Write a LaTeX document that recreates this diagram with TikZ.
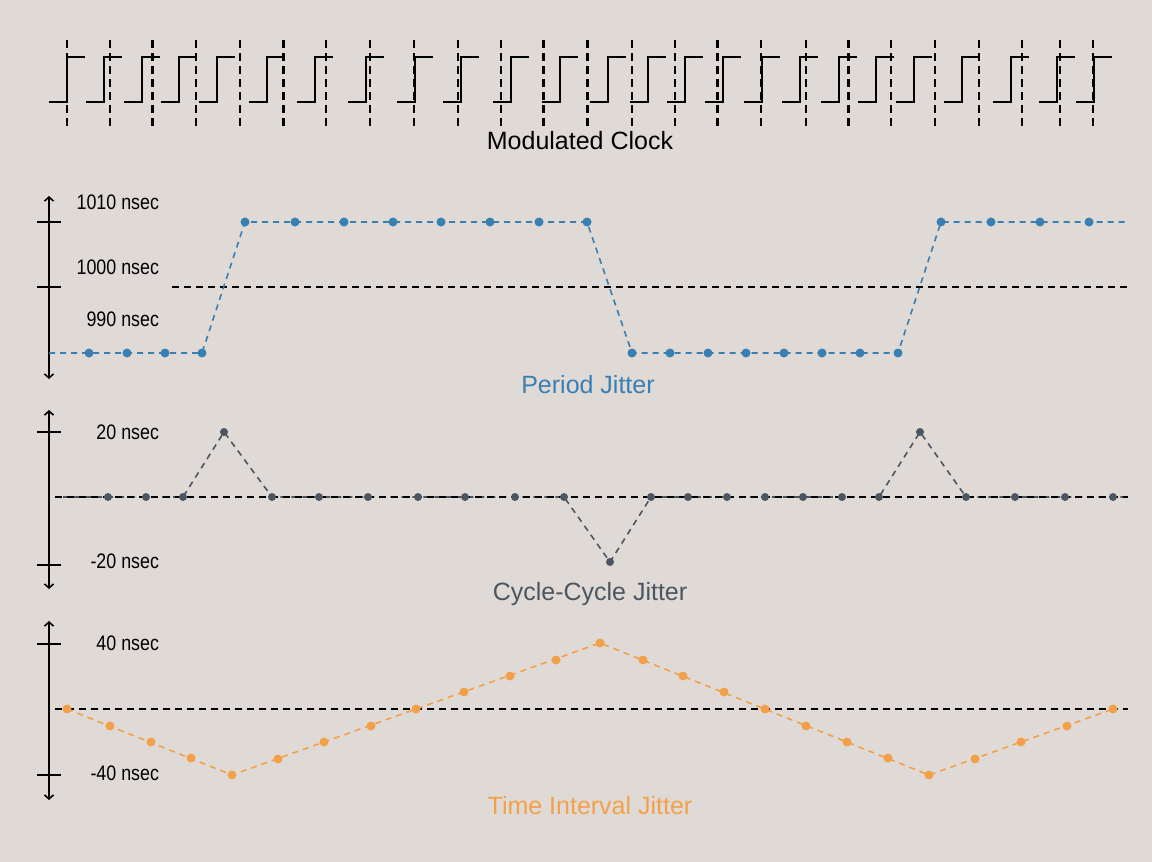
\documentclass[tikz,border=0pt]{standalone}
\usepackage{fontspec}
\setmainfont{Liberation Sans}
\usetikzlibrary{arrows.meta}
\definecolor{bg}{HTML}{E0DAD7}
\definecolor{cblue}{HTML}{3A7FB2}
\definecolor{cgray}{HTML}{4B5661}
\definecolor{corange}{HTML}{F2A14A}
\tikzset{
  clk/.style={line width=2.6pt},
  grid/.style={line width=2.6pt,dash pattern=on 8pt off 5pt},
  zero/.style={line width=2.2pt,dash pattern=on 7pt off 5pt},
  ax/.style={line width=1.6pt,{Straight Barb[length=4pt,width=9pt]}-{Straight Barb[length=4pt,width=9pt]}},
  tk/.style={line width=2.4pt},
  lab/.style={anchor=east,font=\fontsize{21}{21}\selectfont,xscale=0.85},
  ttl/.style={font=\fontsize{25}{25}\selectfont},
  dat/.style={line width=1.6pt,dash pattern=on 6pt off 5pt},
  dot/.style={circle,inner sep=0pt,minimum size=9pt}
}
\begin{document}
\begin{tikzpicture}[x=1pt,y=-1pt]
\fill[bg] (0,0) rectangle (1152,862);
\useasboundingbox (0,0) rectangle (1152,862);
% clock grid
\foreach \x in {67,110,152.5,196,240,283.6,326,370,414,458,501,543.6,587.5,632,675,717.5,761,806,848.6,891,935,979,1022,1060,1093}
  \draw[grid] (\x,40) -- (\x,126);
\foreach \x in {67,104,142,179,217,267,315,366,415,461,511,560,608,648,685,723,762,800,839,876,914,962,1011,1057,1094}
  \draw[clk] (\x-18,102) -- (\x,102) -- (\x,57) -- (\x+18,57);
\node[ttl] (clkt) at (580,141) {Modulated Clock};
% panel 1
\draw[ax] (49,196) -- (49,379);
\draw[tk] (37,222) -- (61,222);
\draw[tk] (37,287) -- (61,287);
\node[lab] (l1) at (162,202) {1010 nsec};
\node[lab] (l2) at (162,267) {1000 nsec};
\node[lab] (l3) at (162,319) {990 nsec};
\draw[zero] (172,287) -- (1128,287);
\draw[dat,cblue] (49,353) -- (202,353) -- (245,222) -- (587,222) -- (632,353) -- (898,353) -- (941,222) -- (1128,222);
\foreach \x in {89,127,165,202,632,670,708,746,784,822,860,898}
  \node[dot,fill=cblue] at (\x,353) {};
\foreach \x in {245,295,344,393,441,490,539,587,941,991,1040,1089}
  \node[dot,fill=cblue] at (\x,222) {};
\node[ttl,text=cblue] (t1) at (588,385) {Period Jitter};
% panel 2
\draw[ax] (49,410) -- (49,589);
\draw[tk] (37,432) -- (61,432);
\draw[tk] (37,565) -- (61,565);
\node[lab] (l4) at (162,432) {20 nsec};
\node[lab] (l5) at (162,561) {-20 nsec};
\draw[dat,cgray] (63,497) -- (183,497) -- (224,432) -- (272,497) -- (564,497) -- (610,562) -- (651,497) -- (879,497) -- (920,432) -- (966,497) -- (1128,497);
\draw[zero] (55,497) -- (1128,497);
\foreach \p in {(108,497),(146,497),(183,497),(224,432),(272,497),(319,497),(368,497),(418,497),(465,497),(515,497),(564,497),(610,562),(651,497),(688,497),(727,497),(765,497),(803,497),(842,497),(879,497),(920,432),(966,497),(1015,497),(1065,497),(1113,497)}
  \node[dot,fill=cgray,minimum size=8pt] at \p {};
\node[ttl,text=cgray] (t2) at (590,594) {Cycle-Cycle Jitter};
% panel 3
\draw[ax] (49,621) -- (49,800);
\draw[tk] (37,644) -- (61,644);
\draw[tk] (37,775) -- (61,775);
\node[lab] (l6) at (162,643) {40 nsec};
\node[lab] (l7) at (162,773) {-40 nsec};
\draw[zero] (55,709) -- (1128,709);
\draw[dat,corange] (67,709) -- (232,775) -- (600,643) -- (929,775) -- (1113,709);
\foreach \p in {(67,709),(110,726),(151,742),(191,758),(232,775),(278,759),(324,742),(371,726),(416,709),(464,692),(510,676),(556,660),(600,643),(643,660),(683,676),(724,692),(765,709),(806,726),(847,742),(888,758),(929,775),(975,759),(1021,742),(1067,726),(1113,709)}
  \node[dot,fill=corange] at \p {};
\node[ttl,text=corange] (t3) at (590,806) {Time Interval Jitter};
\end{tikzpicture}
\end{document}
